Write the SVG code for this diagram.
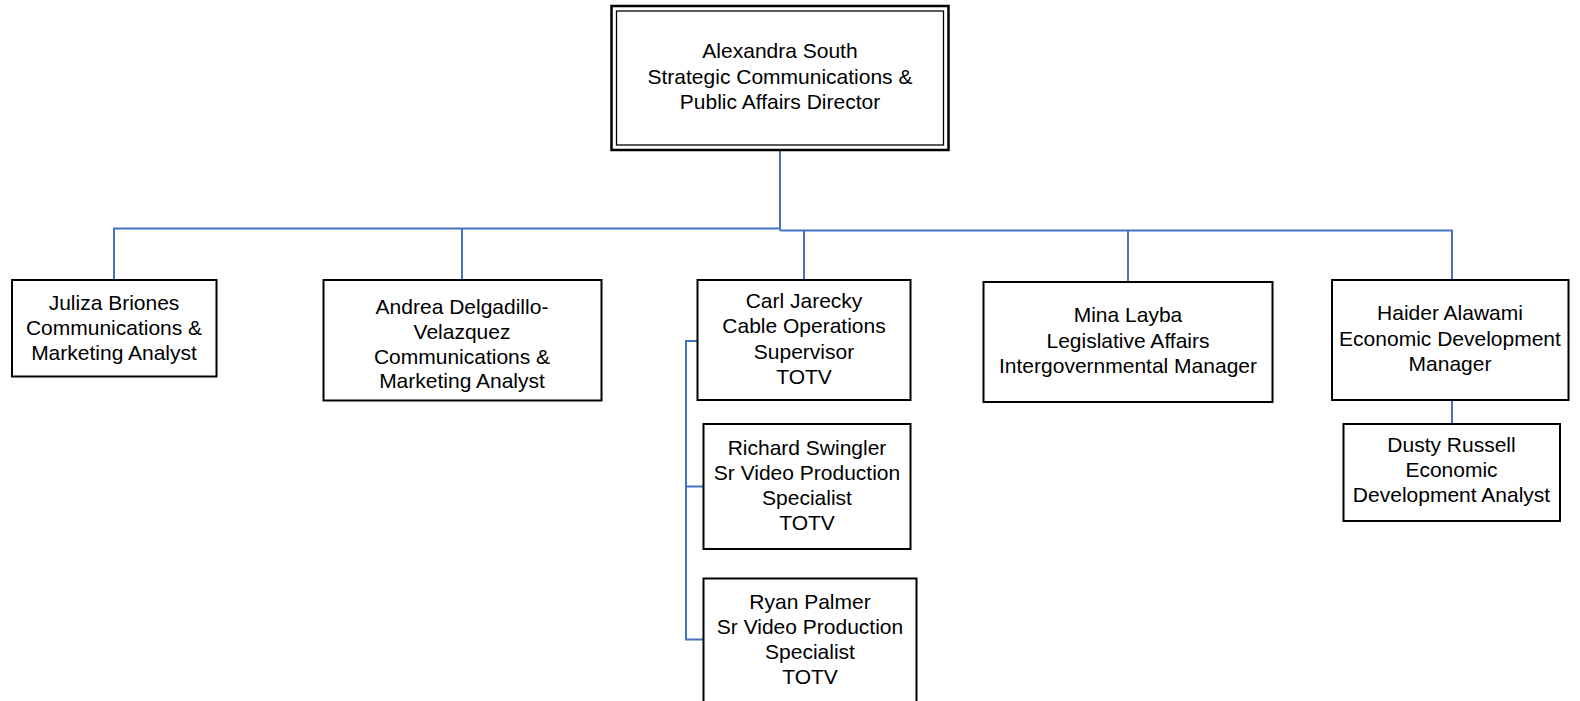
<svg xmlns="http://www.w3.org/2000/svg" width="1580" height="701" viewBox="0 0 1580 701">
<style>
.box{fill:#fff;stroke:#000;stroke-width:2}
.t{font-family:"Liberation Sans",Arial,sans-serif;font-size:21px;fill:#000;text-anchor:middle}
.c{fill:none;stroke:#4472C4;stroke-width:2}
</style>
<rect width="1580" height="701" fill="#fff"/>
<g id="connectors">
<polyline class="c" points="780,150 780,230.5"/>
<polyline class="c" points="114,280 114,228.5 780,228.5"/>
<line class="c" x1="462" y1="228.5" x2="462" y2="280"/>
<polyline class="c" points="780,230.5 1452,230.5 1452,280"/>
<line class="c" x1="804" y1="230.5" x2="804" y2="280"/>
<line class="c" x1="1128" y1="230.5" x2="1128" y2="282"/>
<line class="c" x1="1452" y1="400" x2="1452" y2="424"/>
<polyline class="c" points="697,341 686,341 686,639.5 703,639.5"/>
<line class="c" x1="686" y1="486.5" x2="703" y2="486.5"/>
</g>
<g id="node-alexandra">
<rect x="611.5" y="6" width="337" height="144" fill="#fff" stroke="#000" stroke-width="2.5"/>
<rect x="616.5" y="11" width="327" height="134" fill="none" stroke="#000" stroke-width="1.3"/>
<text class="t" x="780" y="58">Alexandra South</text>
<text class="t" x="780" y="84">Strategic Communications &amp;</text>
<text class="t" x="780" y="109">Public Affairs Director</text>
</g>
<g id="node-juliza">
<rect class="box" x="12" y="280" width="204.5" height="96.5"/>
<text class="t" x="114" y="309.5">Juliza Briones</text>
<text class="t" x="114" y="334.5">Communications &amp;</text>
<text class="t" x="114" y="359.5">Marketing Analyst</text>
</g>
<g id="node-andrea">
<rect class="box" x="323.5" y="280" width="278" height="120.5"/>
<text class="t" x="462" y="313.5">Andrea Delgadillo-</text>
<text class="t" x="462" y="338.5">Velazquez</text>
<text class="t" x="462" y="363.5">Communications &amp;</text>
<text class="t" x="462" y="388">Marketing Analyst</text>
</g>
<g id="node-carl">
<rect class="box" x="697.5" y="280" width="213" height="120"/>
<text class="t" x="804" y="307.5">Carl Jarecky</text>
<text class="t" x="804" y="333">Cable Operations</text>
<text class="t" x="804" y="358.5">Supervisor</text>
<text class="t" x="804" y="384">TOTV</text>
</g>
<g id="node-richard">
<rect class="box" x="703.5" y="424" width="207" height="125"/>
<text class="t" x="807" y="454.5">Richard Swingler</text>
<text class="t" x="807" y="480">Sr Video Production</text>
<text class="t" x="807" y="505">Specialist</text>
<text class="t" x="807" y="530">TOTV</text>
</g>
<g id="node-ryan">
<rect class="box" x="703.5" y="578.5" width="213" height="130"/>
<text class="t" x="810" y="608.5">Ryan Palmer</text>
<text class="t" x="810" y="633.5">Sr Video Production</text>
<text class="t" x="810" y="658.5">Specialist</text>
<text class="t" x="810" y="683.5">TOTV</text>
</g>
<g id="node-mina">
<rect class="box" x="983.5" y="282" width="289" height="120"/>
<text class="t" x="1128" y="322">Mina Layba</text>
<text class="t" x="1128" y="347.5">Legislative Affairs</text>
<text class="t" x="1128" y="373">Intergovernmental Manager</text>
</g>
<g id="node-haider">
<rect class="box" x="1332" y="280" width="236.5" height="120"/>
<text class="t" x="1450" y="320">Haider Alawami</text>
<text class="t" x="1450" y="345.5">Economic Development</text>
<text class="t" x="1450" y="371">Manager</text>
</g>
<g id="node-dusty">
<rect class="box" x="1343.5" y="424" width="216.5" height="97"/>
<text class="t" x="1451.5" y="451.5">Dusty Russell</text>
<text class="t" x="1451.5" y="476.5">Economic</text>
<text class="t" x="1451.5" y="501.5">Development Analyst</text>
</g>
</svg>
